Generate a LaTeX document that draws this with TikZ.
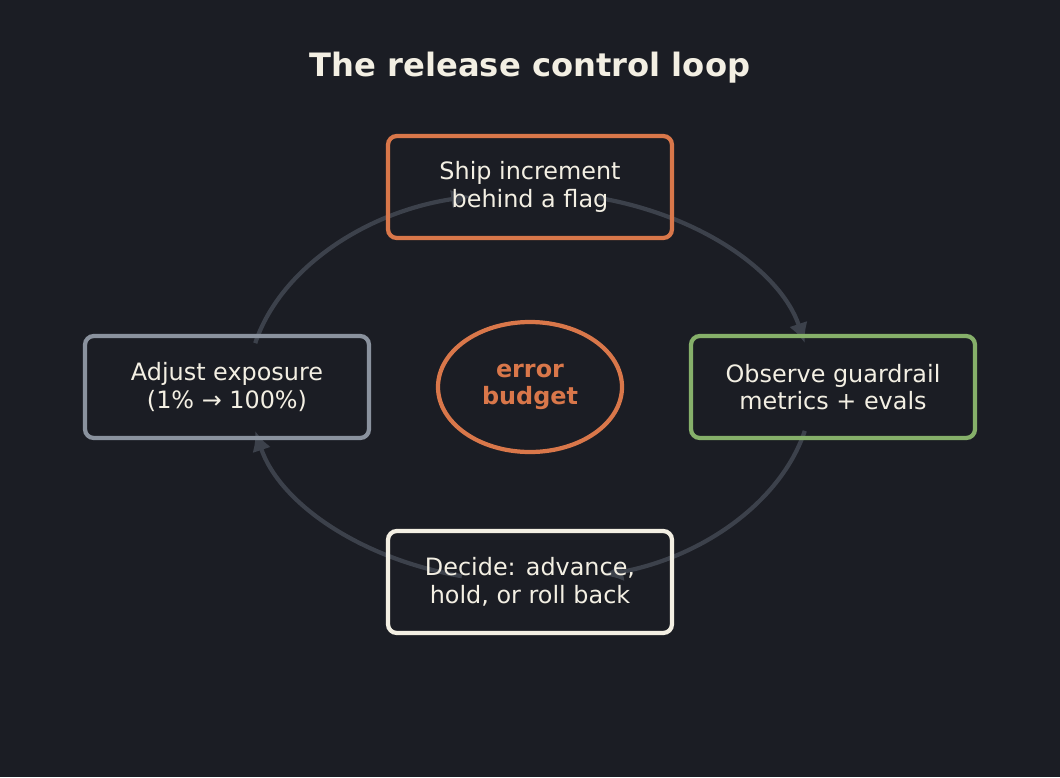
\documentclass[tikz,border=0pt]{standalone}
\usepackage{fontspec}
\setmainfont{DejaVu Sans}
\usetikzlibrary{positioning,calc,arrows.meta,shapes.geometric}
\definecolor{bgDark}{HTML}{1B1D24}
\definecolor{myOrange}{HTML}{D9774A}
\definecolor{myGreen}{HTML}{86B06A}
\definecolor{myGray}{HTML}{8A929E}
\definecolor{myCream}{HTML}{F3EFE3}
\definecolor{arcGray}{HTML}{3C414B}
\tikzset{
  stepbox/.style={draw, rounded corners=0.22cm, line width=3pt, minimum width=7.1cm, minimum height=2.55cm, align=center, text=myCream, font=\fontsize{17}{19.5}\selectfont},
  loopArc/.style={arcGray, line width=3pt, -{Latex[length=0.5cm,width=0.48cm]}}
}
\begin{document}
\begin{tikzpicture}
  % 背景
  \fill[bgDark] (0,0) rectangle (26.5,-19.425);
  \useasboundingbox (0,0) rectangle (26.5,-19.425);

  \coordinate (M) at (13.25,-9.675);

  % タイトル
  \node (title) at (13.25,-1.7) [text=myCream, font=\fontsize{22.9}{27}\selectfont\bfseries]{The release control loop};

  % ループの矢印
  \draw[loopArc] ($(M)+(167:7.05 and 4.875)$) arc[start angle=167, end angle=102, x radius=7.05, y radius=4.875];
  \draw[loopArc] ($(M)+(76:7.05 and 4.875)$) arc[start angle=76, end angle=13, x radius=7.05, y radius=4.875];
  \draw[loopArc] ($(M)+(-13:7.05 and 4.875)$) arc[start angle=-13, end angle=-75, x radius=7.05, y radius=4.875];
  \draw[loopArc] ($(M)+(-104:7.05 and 4.875)$) arc[start angle=-104, end angle=-167, x radius=7.05, y radius=4.875];

  % 各ステップ
  \node (ship) [stepbox, myOrange] at (13.25,-4.675) {\textcolor{myCream}{Ship increment}\\\textcolor{myCream}{behind a flag}};
  \node (observe) [stepbox, myGreen] at (20.825,-9.675) {\textcolor{myCream}{Observe guardrail}\\\textcolor{myCream}{metrics + evals}};
  \node (decide) [stepbox, myCream] at (13.25,-14.55) {Decide: advance,\\hold, or roll back};
  \node (adjust) [stepbox, myGray] at (5.675,-9.675) {\textcolor{myCream}{Adjust exposure}\\\textcolor{myCream}{(1\% → 100\%)}};

  % 中央
  \node (budget) [ellipse, draw=myOrange, line width=3pt, minimum width=4.6cm, minimum height=3.25cm, align=center, text=myOrange, font=\fontsize{17}{19.5}\selectfont\bfseries] at (M) {error\\budget};
\end{tikzpicture}
\end{document}
